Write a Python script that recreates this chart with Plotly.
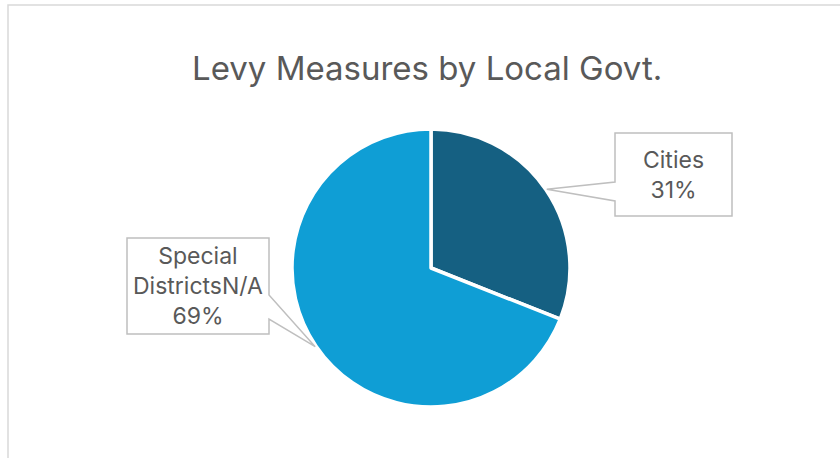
import math
import plotly.graph_objects as go

# ---- data ----
categories = ["Cities", "Special DistrictsN/A"]
values = [31, 69]
colors = ["#156082", "#0F9ED5"]
title_text = "Levy Measures by Local Govt."

# ---- layout constants (pixels) ----
W, H = 840, 458
CX, CY, R = 431, 268, 139
FONT = "Inter"
GRAY = "#595959"

total = sum(values)

fig = go.Figure()
fig.add_trace(go.Pie(
    labels=categories,
    values=values,
    sort=False,
    direction="clockwise",
    rotation=0,
    marker=dict(colors=colors, line=dict(color="white", width=3.5)),
    textinfo="none",
    hoverinfo="label+percent",
    showlegend=False,
    domain=dict(x=[(CX - R) / W, (CX + R) / W],
                y=[1 - (CY + R) / H, 1 - (CY - R) / H]),
))

# invisible pixel-space axes for shapes/annotations
fig.add_trace(go.Scatter(x=[0, W], y=[0, H], mode="markers",
                         marker=dict(opacity=0), hoverinfo="skip", showlegend=False))

shapes = []
# chart border
shapes.append(dict(type="rect", xref="x", yref="y", x0=8, y0=5, x1=W + 10, y1=H + 10,
                   line=dict(color="#D9D9D9", width=1.5), fillcolor="rgba(0,0,0,0)", layer="below"))

# callout boxes (box, wedge base on box side)
boxes = [
    dict(x0=615, x1=732, y0=133, y1=216, side="left", b0=182, b1=201),
    dict(x0=127, x1=269, y0=238, y1=334, side="right", b0=295, b1=319),
]

annotations = []
cum = 0.0
for i, (cat, v) in enumerate(zip(categories, values)):
    frac = v / total
    mid = (cum + frac / 2) * 2 * math.pi
    cum += frac
    tx = CX + (R + 1) * math.sin(mid)
    ty = CY - (R + 1) * math.cos(mid)
    b = boxes[i]
    if b["side"] == "left":
        path = (f"M {b['x0']},{b['y0']} L {b['x1']},{b['y0']} L {b['x1']},{b['y1']} "
                f"L {b['x0']},{b['y1']} L {b['x0']},{b['b1']} L {tx:.1f},{ty:.1f} "
                f"L {b['x0']},{b['b0']} Z")
    else:
        path = (f"M {b['x0']},{b['y0']} L {b['x1']},{b['y0']} L {b['x1']},{b['b0']} "
                f"L {tx:.1f},{ty:.1f} L {b['x1']},{b['b1']} L {b['x1']},{b['y1']} "
                f"L {b['x0']},{b['y1']} Z")
    shapes.append(dict(type="path", xref="x", yref="y", path=path,
                       fillcolor="white", line=dict(color="#BFBFBF", width=1.5), layer="above"))
    label = cat.replace(" ", "<br>", 1)
    pct = round(frac * 100)
    annotations.append(dict(
        x=(b["x0"] + b["x1"]) / 2, y=(b["y0"] + b["y1"]) / 2, xref="x", yref="y",
        text=f"{label}<br>{pct}%", showarrow=False, align="center",
        xanchor="center", yanchor="middle",
        font=dict(family=FONT, size=23, color=GRAY),
    ))

annotations.append(dict(
    x=426.5, y=68, xref="x", yref="y", text=title_text, showarrow=False,
    xanchor="center", yanchor="middle",
    font=dict(family=FONT, size=33, color=GRAY),
))

fig.update_layout(
    width=W, height=H,
    margin=dict(l=0, r=0, t=0, b=0),
    paper_bgcolor="white", plot_bgcolor="rgba(0,0,0,0)",
    xaxis=dict(visible=False, range=[0, W], domain=[0, 1], fixedrange=True),
    yaxis=dict(visible=False, range=[H, 0], domain=[0, 1], fixedrange=True),
    shapes=shapes,
    annotations=annotations,
    showlegend=False,
)

fig.write_html("out.html", config={"displayModeBar": False},
               post_script="document.body.style.margin='0';")
